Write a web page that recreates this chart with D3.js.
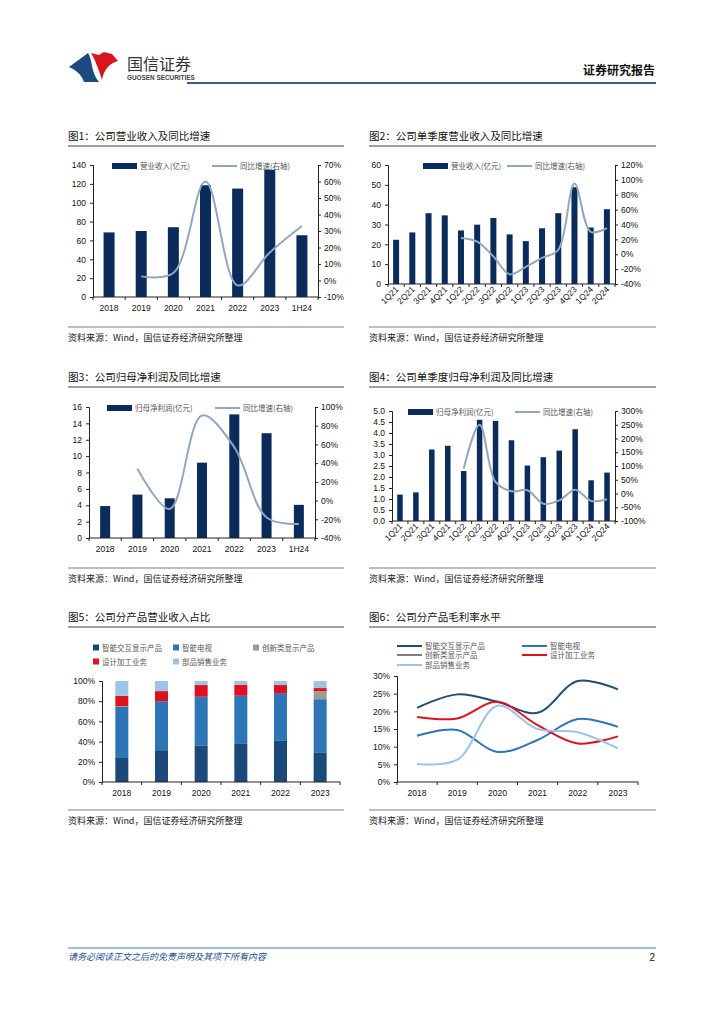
<!DOCTYPE html>
<html>
<head>
<meta charset="utf-8">
<script src="https://d3js.org/d3.v7.min.js"></script>
<style>
  body{ margin:0; background:#fff; }
  svg{ display:block; font-family:"Liberation Sans", Arial, sans-serif; }
  .cn{ font-family:"Noto Sans CJK SC", sans-serif; }
  .tick text, .lbl{ font-size:8.5px; fill:#111; }
  .leg{ font-family:"Noto Sans CJK SC", sans-serif; font-size:7.5px; fill:#555; }
</style>
</head>
<body>
<script>
    // ---- data ----
    var years = ["2018", "2019", "2020", "2021", "2022", "2023", "1H24"];
    var quarters = ["1Q21", "2Q21", "3Q21", "4Q21", "1Q22", "2Q22", "3Q22", "4Q22", "1Q23", "2Q23", "3Q23", "4Q23", "1Q24", "2Q24"];

    var revenue = [68.5, 70, 74, 118.5, 115, 135, 65.5];
    var revenueYoy = [null, 2.5, 4.5, 60, -3, 17, 33];

    var qRevenue = [22.3, 26, 35.7, 34.6, 27, 29.9, 33.3, 25, 21.6, 28.1, 35.7, 48.8, 28.5, 37.7];
    var qRevenueYoy = [null, null, null, null, 22, 17, -3, -27, -17, -5, 6, 95, 30, 35];

    var profit = [3.9, 5.3, 4.85, 9.2, 15.1, 12.8, 4.05];
    var profitYoy = [null, 34, -9, 91, 57, -18, -25];

    var qProfit = [1.2, 1.3, 3.25, 3.42, 2.27, 4.6, 4.55, 3.67, 2.52, 2.9, 3.2, 4.17, 1.85, 2.2];
    var qProfitYoy = [null, null, null, null, 90, 250, 42, 8, 12, -37, -25, 14, -27, -21];

    var segYears = ["2018", "2019", "2020", "2021", "2022", "2023"];
    var segNames = ["智能交互显示产品", "智能电视", "创新类显示产品", "设计加工业务", "部品销售业务"];
    var shareInteractive = [23.8, 31.5, 35.8, 37.7, 40.7, 28.8];
    var shareTV = [50.7, 48.5, 48.6, 47.7, 47.3, 53.2];
    var shareInnovative = [0.5, 0, 0, 0, 0, 8];
    var shareProcessing = [10.4, 10, 11.6, 11, 8, 3];
    var shareParts = [14.6, 10, 4, 3.6, 4, 7];

    var marginInteractive = [21, 24.8, 22.7, 19.6, 28.6, 26.2];
    var marginTV = [13.1, 14.7, 8.5, 11.9, 17.8, 15.6];
    var marginInnovative = [null, null, null, null, null, null];
    var marginProcessing = [18.4, 18, 22.7, 16.1, 10.9, 12.9];
    var marginParts = [5.1, 6.3, 21.6, 15, 14.1, 9.5];

    var barColor = "#0b2b5a";
    var lineColor = "#8fa8c0";
    var segColors = ["#1b4a7a", "#2e75b6", "#9a9a9a", "#e0111f", "#9dc3e6"];
    var source = "资料来源：Wind，国信证券经济研究所整理";

    var svg = d3.select("body").append("svg")
        .attr("width", 724)
        .attr("height", 1024);

    // ---- header ----
    svg.append("path")
        .attr("d", "M69,67 L88,53 C93,60 90,71 99,82 L84,82 C82,76 78,71 69,67 Z")
        .attr("fill", "#1d4a7e");
    svg.append("path")
        .attr("d", "M91,53 L99,55 L104,52 L112,54 L118,61 C110,63 104,69 102,80 C99,71 96,61 91,53 Z")
        .attr("fill", "#d7141f");
    svg.append("text").attr("class", "cn")
        .attr("x", 127).attr("y", 70)
        .attr("font-size", 16).attr("fill", "#333")
        .text("国信证券");
    svg.append("text")
        .attr("x", 127).attr("y", 80)
        .attr("font-size", 6.4).attr("font-weight", "bold").attr("fill", "#444")
        .text("GUOSEN SECURITIES");
    svg.append("line")
        .attr("x1", 187).attr("x2", 656).attr("y1", 83).attr("y2", 83)
        .attr("stroke", "#2f5f8f").attr("stroke-width", 2);
    svg.append("text").attr("class", "cn")
        .attr("x", 655).attr("y", 75).attr("text-anchor", "end")
        .attr("font-size", 12).attr("font-weight", "bold").attr("fill", "#111")
        .text("证券研究报告");

    // ---- footer ----
    svg.append("line")
        .attr("x1", 68).attr("x2", 656).attr("y1", 948).attr("y2", 948)
        .attr("stroke", "#4a7ab0").attr("stroke-width", 1);
    svg.append("text").attr("class", "cn")
        .attr("x", 68).attr("y", 960)
        .attr("font-size", 9).attr("font-style", "italic").attr("fill", "#1f4e8c")
        .text("请务必阅读正文之后的免责声明及其项下所有内容");
    svg.append("text")
        .attr("x", 655).attr("y", 961).attr("text-anchor", "end")
        .attr("font-size", 10).attr("fill", "#111")
        .text("2");

    // title, underline, source block around each chart
    function frame(x, w, titleY, sepY, title) {
        svg.append("text").attr("class", "cn")
            .attr("x", x).attr("y", titleY)
            .attr("font-size", 10.5).attr("fill", "#111")
            .text(title);
        svg.append("line")
            .attr("x1", x).attr("x2", x + w).attr("y1", titleY + 6).attr("y2", titleY + 6)
            .attr("stroke", "#7f7f7f").attr("stroke-width", 1.5);
        svg.append("line")
            .attr("x1", x).attr("x2", x + w).attr("y1", sepY).attr("y2", sepY)
            .attr("stroke", "#7f7f7f").attr("stroke-width", 1);
        svg.append("text").attr("class", "cn")
            .attr("x", x).attr("y", sepY + 14)
            .attr("font-size", 9).attr("fill", "#222")
            .text(source);
    }

    frame(68, 276, 140, 327, "图1：公司营业收入及同比增速");
    frame(369, 287, 140, 327, "图2：公司单季度营业收入及同比增速");
    frame(68, 276, 381, 568, "图3：公司归母净利润及同比增速");
    frame(369, 287, 381, 568, "图4：公司单季度归母净利润及同比增速");
    frame(68, 276, 621, 810, "图5：公司分产品营业收入占比");
    frame(369, 287, 621, 810, "图6：公司分产品毛利率水平");

    // x axis with ticks between bands
    function bandAxis(x, cats, y, rotate) {
        var g = svg.append("g");
        var r = x.range();
        g.append("line").attr("x1", r[0]).attr("x2", r[1]).attr("y1", y).attr("y2", y)
            .attr("stroke", "#222");
        g.selectAll(".bt").data(d3.range(cats.length + 1)).enter().append("line")
            .attr("x1", function(i){ return r[0] + i * x.step(); })
            .attr("x2", function(i){ return r[0] + i * x.step(); })
            .attr("y1", y).attr("y2", y + 3)
            .attr("stroke", "#222");
        var t = g.selectAll(".lbl").data(cats).enter().append("text")
            .attr("class", "lbl");
        if (rotate) {
            t.attr("text-anchor", "end")
                .attr("transform", function(d){
                    return "translate(" + (x(d) + x.bandwidth() / 2 + 3) + "," + (y + 6) + ") rotate(-45)";
                })
                .attr("font-size", 8)
                .text(function(d){ return d; });
        } else {
            t.attr("x", function(d){ return x(d) + x.bandwidth() / 2; })
                .attr("y", y + 14)
                .attr("text-anchor", "middle")
                .text(function(d){ return d; });
        }
    }

    // bar + yoy line chart
    function combo(o) {
        var x = d3.scaleBand().domain(o.cats).range([o.x0, o.x1]);
        var yL = d3.scaleLinear().domain(o.lDom).range([o.yBot, o.yTop]);
        var yR = d3.scaleLinear().domain(o.rDom).range([o.yBot, o.yTop]);

        svg.append("g").attr("transform", "translate(" + o.x0 + ",0)")
            .call(d3.axisLeft(yL).tickValues(o.lTicks).tickFormat(o.lFmt).tickSize(3).tickPadding(4))
            .call(function(g){ g.selectAll("path,line").attr("stroke", "#222"); g.selectAll("text").attr("class", "lbl"); g.attr("font-family", null).attr("font-size", null); });
        svg.append("g").attr("transform", "translate(" + o.x1 + ",0)")
            .call(d3.axisRight(yR).tickValues(o.rTicks).tickFormat(function(d){ return d + "%"; }).tickSize(3).tickPadding(3))
            .call(function(g){ g.selectAll("path,line").attr("stroke", "#222"); g.selectAll("text").attr("class", "lbl"); g.attr("font-family", null).attr("font-size", null); });

        svg.selectAll(null).data(o.bars).enter().append("rect")
            .attr("x", function(d, i){ return x(o.cats[i]) + (x.bandwidth() - o.barW) / 2; })
            .attr("y", function(d){ return yL(d); })
            .attr("width", o.barW)
            .attr("height", function(d){ return o.yBot - yL(d); })
            .attr("fill", barColor);

        bandAxis(x, o.cats, o.yBot, o.rotate);

        var pts = o.line.map(function(v, i){ return {c: o.cats[i], v: v}; })
            .filter(function(d){ return d.v != null; });
        svg.append("path")
            .datum(pts)
            .attr("fill", "none")
            .attr("stroke", lineColor)
            .attr("stroke-width", 2)
            .attr("d", d3.line()
                .x(function(d){ return x(d.c) + x.bandwidth() / 2; })
                .y(function(d){ return yR(d.v); })
                .curve(d3.curveCatmullRom));

        // legend
        var ly = o.yTop + 1;
        svg.append("rect").attr("x", o.leg[0]).attr("y", ly - 3).attr("width", 25).attr("height", 6)
            .attr("fill", barColor);
        svg.append("text").attr("class", "leg").attr("x", o.leg[0] + 28).attr("y", ly + 3).text(o.barName);
        svg.append("line").attr("x1", o.leg[1]).attr("x2", o.leg[1] + 25).attr("y1", ly).attr("y2", ly)
            .attr("stroke", lineColor).attr("stroke-width", 2);
        svg.append("text").attr("class", "leg").attr("x", o.leg[1] + 28).attr("y", ly + 3).text("同比增速(右轴)");
    }

    combo({cats: years, bars: revenue, line: revenueYoy,
        x0: 93, x1: 318, yTop: 165, yBot: 297,
        lDom: [0, 140], lTicks: d3.range(0, 141, 20), lFmt: d3.format("d"),
        rDom: [-10, 70], rTicks: d3.range(-10, 71, 10),
        barW: 11, leg: [112, 212], barName: "营业收入(亿元)"});

    combo({cats: quarters, bars: qRevenue, line: qRevenueYoy, rotate: true,
        x0: 388, x1: 615, yTop: 165, yBot: 284,
        lDom: [0, 60], lTicks: d3.range(0, 61, 10), lFmt: d3.format("d"),
        rDom: [-40, 120], rTicks: d3.range(-40, 121, 20),
        barW: 6, leg: [423, 507], barName: "营业收入(亿元)"});

    combo({cats: years, bars: profit, line: profitYoy,
        x0: 89, x1: 315, yTop: 407, yBot: 538,
        lDom: [0, 16], lTicks: d3.range(0, 17, 2), lFmt: d3.format("d"),
        rDom: [-40, 100], rTicks: d3.range(-40, 101, 20),
        barW: 10, leg: [107, 215], barName: "归母净利润(亿元)"});

    combo({cats: quarters, bars: qProfit, line: qProfitYoy, rotate: true,
        x0: 392, x1: 615, yTop: 411, yBot: 521,
        lDom: [0, 5], lTicks: d3.range(0, 5.01, 0.5), lFmt: d3.format(".1f"),
        rDom: [-100, 300], rTicks: d3.range(-100, 301, 50),
        barW: 5.5, leg: [408, 515], barName: "归母净利润(亿元)"});

    // ---- chart 5: stacked shares ----
    var shares = [shareInteractive, shareTV, shareInnovative, shareProcessing, shareParts];
    var rows = segYears.map(function(y, i){
        var r = {year: y};
        segNames.forEach(function(n, k){ r[n] = shares[k][i]; });
        return r;
    });
    var x5 = d3.scaleBand().domain(segYears).range([102, 340]);
    var y5 = d3.scaleLinear().domain([0, 100]).range([782, 681]);
    var stack = d3.stack().keys(segNames)(rows);
    svg.append("g").selectAll("g").data(stack).enter().append("g")
        .attr("fill", function(d, i){ return segColors[i]; })
        .selectAll("rect").data(function(d){ return d; }).enter().append("rect")
        .attr("x", function(d){ return x5(d.data.year) + (x5.bandwidth() - 13) / 2; })
        .attr("y", function(d){ return y5(d[1]); })
        .attr("width", 13)
        .attr("height", function(d){ return y5(d[0]) - y5(d[1]); });
    svg.append("g").attr("transform", "translate(102,0)")
        .call(d3.axisLeft(y5).tickValues(d3.range(0, 101, 20)).tickFormat(function(d){ return d + "%"; }).tickSize(3).tickPadding(4))
        .call(function(g){ g.selectAll("path,line").attr("stroke", "#222"); g.selectAll("text").attr("class", "lbl"); g.attr("font-family", null).attr("font-size", null); });
    bandAxis(x5, segYears, 782, false);

    var leg5 = [[93, 648], [173, 648], [253, 648], [93, 662], [173, 662]];
    segNames.forEach(function(n, k){
        svg.append("rect").attr("x", leg5[k][0]).attr("y", leg5[k][1] - 3.5).attr("width", 6).attr("height", 6)
            .attr("fill", segColors[k]);
        svg.append("text").attr("class", "leg").attr("x", leg5[k][0] + 9).attr("y", leg5[k][1] + 2.5).text(n);
    });

    // ---- chart 6: margins ----
    var margins = [marginInteractive, marginTV, marginInnovative, marginProcessing, marginParts];
    var lineColors = ["#1f4e79", "#2e75b6", "#808080", "#e0111f", "#9dc3e6"];
    var x6 = d3.scaleBand().domain(segYears).range([397, 638]);
    var y6 = d3.scaleLinear().domain([0, 30]).range([782, 676]);
    svg.append("g").attr("transform", "translate(397,0)")
        .call(d3.axisLeft(y6).tickValues(d3.range(0, 31, 5)).tickFormat(function(d){ return d + "%"; }).tickSize(3).tickPadding(4))
        .call(function(g){ g.selectAll("path,line").attr("stroke", "#222"); g.selectAll("text").attr("class", "lbl"); g.attr("font-family", null).attr("font-size", null); });
    bandAxis(x6, segYears, 782, false);

    var line6 = d3.line()
        .defined(function(d){ return d.v != null; })
        .x(function(d){ return x6(d.c) + x6.bandwidth() / 2; })
        .y(function(d){ return y6(d.v); })
        .curve(d3.curveCatmullRom);
    margins.forEach(function(arr, k){
        svg.append("path")
            .datum(arr.map(function(v, i){ return {c: segYears[i], v: v}; }))
            .attr("fill", "none")
            .attr("stroke", lineColors[k])
            .attr("stroke-width", 2)
            .attr("d", line6);
    });

    var leg6 = [[397, 646], [522, 646], [397, 655], [522, 655], [397, 665]];
    segNames.forEach(function(n, k){
        svg.append("line").attr("x1", leg6[k][0]).attr("x2", leg6[k][0] + 25)
            .attr("y1", leg6[k][1]).attr("y2", leg6[k][1])
            .attr("stroke", lineColors[k]).attr("stroke-width", 2);
        svg.append("text").attr("class", "leg").attr("x", leg6[k][0] + 28).attr("y", leg6[k][1] + 3).text(n);
    });
</script>
</body>
</html>
